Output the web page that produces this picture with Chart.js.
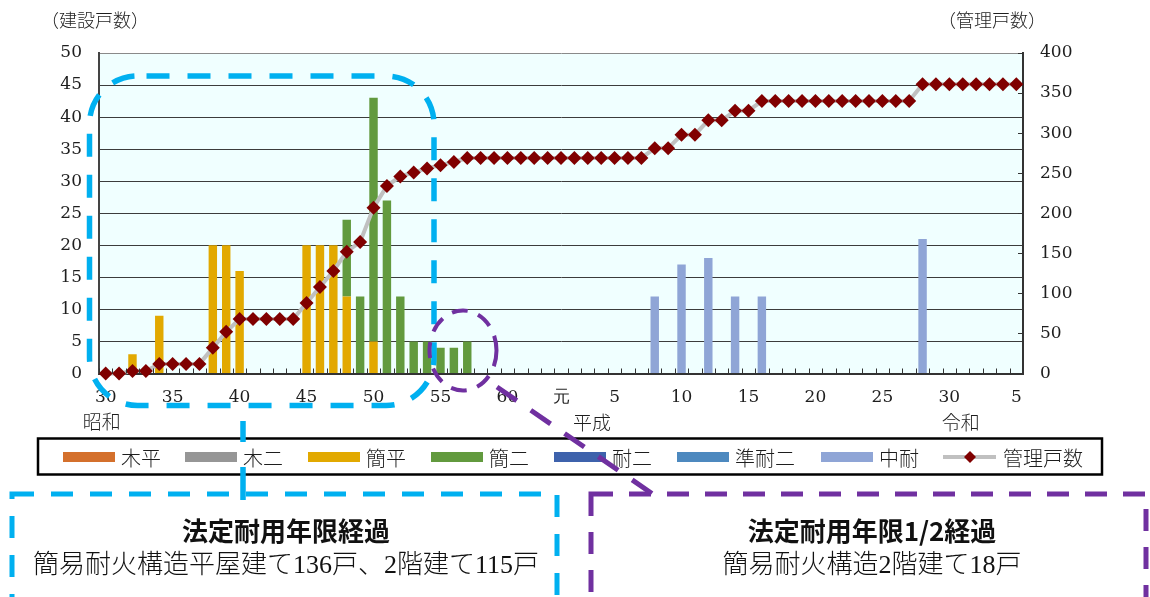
<!DOCTYPE html>
<html lang="ja">
<head>
<meta charset="utf-8">
<title>構造別建設戸数・管理戸数の推移</title>
<script src="https://cdn.jsdelivr.net/npm/chart.js@4.4.1/dist/chart.umd.min.js"></script>
<style>
  html, body { margin: 0; padding: 0; background: #ffffff; }
  #wrap { width: 1150px; height: 597px; position: relative; overflow: hidden; }
</style>
</head>
<body>
<div id="wrap"><canvas id="chart" width="1150" height="597"></canvas></div>
<script>
// ---- fiscal years, 昭和30 (1955) to 令和5 (2023) ----
const categories = [
  '昭和30','昭和31','昭和32','昭和33','昭和34','昭和35','昭和36','昭和37','昭和38','昭和39',
  '昭和40','昭和41','昭和42','昭和43','昭和44','昭和45','昭和46','昭和47','昭和48','昭和49',
  '昭和50','昭和51','昭和52','昭和53','昭和54','昭和55','昭和56','昭和57','昭和58','昭和59',
  '昭和60','昭和61','昭和62','昭和63','平成元','平成2','平成3','平成4','平成5','平成6',
  '平成7','平成8','平成9','平成10','平成11','平成12','平成13','平成14','平成15','平成16',
  '平成17','平成18','平成19','平成20','平成21','平成22','平成23','平成24','平成25','平成26',
  '平成27','平成28','平成29','平成30','令和元','令和2','令和3','令和4','令和5'
];

// years that carry a tick label (era prefix is dropped when drawn)
const labelledTicks = ['昭和30','昭和35','昭和40','昭和45','昭和50','昭和55','昭和60',
  '平成元','平成5','平成10','平成15','平成20','平成25','平成30','令和5'];

// era names written under the year numbers
const eraLabels = ['昭和', '平成', '令和'];

// ---- units built per year, by structure ----
const mokuHira = [];   // 木平 : none in this period
const mokuNi = [];     // 木二 : none in this period
const kanHira = [      // 簡平
  0,0,3,0,9,0,0,0,20,20,
  16,0,0,0,0,20,20,20,12,0,
  5,0,0,0,0,0,0,0,0,0,
  0,0,0,0,0,0,0,0,0,0,
  0,0,0,0,0,0,0,0,0,0,
  0,0,0,0,0,0,0,0,0,0,
  0,0,0,0,0,0,0,0,0
];
const kanNi = [        // 簡二
  0,0,0,0,0,0,0,0,0,0,
  0,0,0,0,0,0,0,0,12,12,
  38,27,12,5,5,4,4,5,0,0,
  0,0,0,0,0,0,0,0,0,0,
  0,0,0,0,0,0,0,0,0,0,
  0,0,0,0,0,0,0,0,0,0,
  0,0,0,0,0,0,0,0,0
];
const taiNi = [];      // 耐二 : none in this period
const junTaiNi = [];   // 準耐二 : none in this period
const chuTai = [       // 中耐
  0,0,0,0,0,0,0,0,0,0,
  0,0,0,0,0,0,0,0,0,0,
  0,0,0,0,0,0,0,0,0,0,
  0,0,0,0,0,0,0,0,0,0,
  0,12,0,17,0,18,0,12,0,12,
  0,0,0,0,0,0,0,0,0,0,
  0,21,0,0,0,0,0,0,0
];

// ---- units under management (right axis) ----
const kanriKosu = [
  0,0,3,3,12,12,12,12,32,52,
  68,68,68,68,68,88,108,128,152,164,
  207,234,246,251,256,260,264,269,269,269,
  269,269,269,269,269,269,269,269,269,269,
  269,281,281,298,298,316,316,328,328,340,
  340,340,340,340,340,340,340,340,340,340,
  340,361,361,361,361,361,361,361,361
];

// ---- axis ticks ----
const leftTicks = { min: 0, max: 50, step: 5 };
const rightTicks = { min: 0, max: 400, step: 50 };

const TICK_FONT = '"DejaVu Serif", "Liberation Serif", serif';
const NUM_FONT = '"Liberation Serif", "Noto Sans CJK JP", serif';
const JP_FONT = '"Noto Sans CJK JP", "Noto Sans", sans-serif';
const TEXT = '#1e1e1e';

const barSets = [
  { label: '木平',   data: mokuHira, color: '#D4702C' },
  { label: '木二',   data: mokuNi,   color: '#969696' },
  { label: '簡平',   data: kanHira,  color: '#E2A900' },
  { label: '簡二',   data: kanNi,    color: '#629A3E' },
  { label: '耐二',   data: taiNi,    color: '#3E62AC' },
  { label: '準耐二', data: junTaiNi, color: '#4D89BF' },
  { label: '中耐',   data: chuTai,   color: '#8FA5D6' }
];
const LINE_COLOR = '#C0C0C0';
const MARK_COLOR = '#800000';

const datasets = barSets.map(s => ({
  type: 'bar',
  label: s.label,
  data: s.data,
  backgroundColor: s.color,
  borderWidth: 0,
  yAxisID: 'y',
  stack: 'built',
  barPercentage: 0.63,
  categoryPercentage: 1.0,
  order: 2
}));
datasets.push({
  type: 'line',
  label: '管理戸数',
  data: kanriKosu,
  yAxisID: 'y2',
  borderColor: LINE_COLOR,
  borderWidth: 4,
  pointStyle: 'rectRot',
  pointRadius: 7,
  pointBackgroundColor: MARK_COLOR,
  pointBorderColor: MARK_COLOR,
  pointBorderWidth: 0,
  tension: 0,
  clip: false,
  order: 0
});

// legend entry left edges (swatch start) inside the framed legend row
const legendSlots = [63, 185, 308, 431, 554, 677, 821, 943];

// background, inner tick marks, era names, axis titles, legend and call-outs
const decorations = {
  id: 'decorations',
  beforeDraw(chart) {
    const { ctx, chartArea: a } = chart;
    ctx.save();
    ctx.fillStyle = '#F0FFFF';
    ctx.fillRect(a.left, a.top, a.right - a.left, a.bottom - a.top);
    ctx.restore();
  },
  afterDatasetsDraw(chart) {
    const { ctx, chartArea: a, scales } = chart;
    ctx.save();
    ctx.strokeStyle = '#333333';
    ctx.lineWidth = 1;
    // short ticks on the inside of the category axis, at each year boundary
    const n = categories.length;
    const w = (a.right - a.left) / n;
    for (let i = 0; i <= n; i++) {
      const x = Math.round(a.left + i * w) + 0.5;
      ctx.beginPath(); ctx.moveTo(x, a.bottom); ctx.lineTo(x, a.bottom - 5); ctx.stroke();
    }
    // short ticks on the inside of the right axis
    for (let v = rightTicks.min; v <= rightTicks.max; v += rightTicks.step) {
      const y = Math.round(scales.y2.getPixelForValue(v)) + 0.5;
      ctx.beginPath(); ctx.moveTo(a.right, y); ctx.lineTo(a.right - 5, y); ctx.stroke();
    }
    ctx.restore();
  },
  afterDraw(chart) {
    const { ctx, scales } = chart;
    const xs = scales.x;
    ctx.save();

    // era names
    ctx.fillStyle = TEXT;
    ctx.font = '300 19px ' + JP_FONT;
    ctx.textAlign = 'center';
    ctx.textBaseline = 'middle';
    const eraPos = [
      xs.getPixelForValue(categories.indexOf('昭和30')) - 4,
      xs.getPixelForValue(categories.indexOf('平成元')) + 31,
      xs.getPixelForValue(categories.indexOf('令和元')) - 2
    ];
    eraLabels.forEach((t, i) => ctx.fillText(t, eraPos[i], i === 0 ? 422 : 423));

    // axis titles
    ctx.font = '300 18px ' + JP_FONT;
    ctx.fillText('（建設戸数）', 95, 20);
    ctx.fillText('（管理戸数）', 992, 20);

    // legend
    const lgTop = 438.5, lgBottom = 474.5, lgMid = 457;
    ctx.lineWidth = 2.5;
    ctx.strokeStyle = '#000000';
    ctx.setLineDash([]);
    ctx.strokeRect(38, lgTop, 1102 - 38, lgBottom - lgTop);
    ctx.font = '300 20px ' + JP_FONT;
    ctx.textAlign = 'left';
    barSets.forEach((s, i) => {
      const x = legendSlots[i];
      ctx.fillStyle = s.color;
      ctx.fillRect(x, lgMid - 5, 52, 10);
      ctx.fillStyle = TEXT;
      ctx.fillText(s.label, x + 58, lgMid + 1);
    });
    const x = legendSlots[barSets.length];
    ctx.strokeStyle = LINE_COLOR;
    ctx.lineWidth = 4;
    ctx.beginPath(); ctx.moveTo(x, lgMid); ctx.lineTo(x + 53, lgMid); ctx.stroke();
    ctx.fillStyle = MARK_COLOR;
    const dx = x + 27;
    ctx.beginPath();
    ctx.moveTo(dx, lgMid - 6); ctx.lineTo(dx + 6, lgMid); ctx.lineTo(dx, lgMid + 6); ctx.lineTo(dx - 6, lgMid);
    ctx.closePath(); ctx.fill();
    ctx.fillStyle = TEXT;
    ctx.fillText('管理戸数', x + 60, lgMid + 1);

    // call-out: units past their statutory service life
    const CYAN = '#00B0F0';
    ctx.strokeStyle = CYAN;
    ctx.lineWidth = 5.5;
    ctx.setLineDash([23, 18]);
    ctx.lineDashOffset = -9;
    ctx.beginPath();
    ctx.roundRect(89.5, 76, 344.5, 329.5, 48);
    ctx.stroke();
    ctx.lineDashOffset = 0;
    ctx.setLineDash([21, 25, 33, 25]);
    ctx.beginPath(); ctx.moveTo(243, 421); ctx.lineTo(243, 500); ctx.stroke();
    ctx.lineWidth = 5;
    ctx.setLineDash([22, 17]);
    ctx.strokeRect(12, 494, 545, 140);

    // call-out: units past half of their service life
    const PURPLE = '#7030A0';
    ctx.strokeStyle = PURPLE;
    ctx.lineWidth = 4;
    ctx.setLineDash([16, 11]);
    ctx.beginPath();
    ctx.ellipse(463, 350.5, 33.5, 40, 0, 0, Math.PI * 2);
    ctx.stroke();
    ctx.lineWidth = 5;
    ctx.setLineDash([24, 17]);
    ctx.beginPath(); ctx.moveTo(497, 387); ctx.lineTo(657, 497); ctx.stroke();
    ctx.setLineDash([22, 16]);
    ctx.strokeRect(591, 494, 555, 140);

    // call-out texts
    ctx.setLineDash([]);
    ctx.fillStyle = '#111111';
    ctx.textAlign = 'center';
    ctx.font = 'bold 26px ' + JP_FONT;
    ctx.fillText('法定耐用年限経過', 286, 531);
    ctx.fillText('法定耐用年限1/2経過', 872, 531);
    ctx.font = '300 26px ' + NUM_FONT;
    ctx.fillText('簡易耐火構造平屋建て136戸、2階建て115戸', 286, 566);
    ctx.fillText('簡易耐火構造2階建て18戸', 872, 566);

    ctx.restore();
  }
};

new Chart(document.getElementById('chart'), {
  data: { labels: categories, datasets },
  options: {
    responsive: false,
    animation: false,
    devicePixelRatio: 1,
    layout: { padding: { left: 0, right: 0, top: 53, bottom: 0 } },
    plugins: { legend: { display: false }, tooltip: { enabled: false } },
    scales: {
      x: {
        stacked: true,
        offset: true,
        grid: { display: false, drawTicks: false },
        border: { display: true, color: '#333333', width: 2 },
        ticks: {
          autoSkip: false,
          maxRotation: 0,
          padding: 14,
          color: TEXT,
          font: { family: TICK_FONT, size: 17 },
          callback: (v, i) => labelledTicks.includes(categories[i]) ? categories[i].slice(2) : ''
        },
        afterFit: s => { s.height = 223.5; }
      },
      y: {
        type: 'linear',
        position: 'left',
        stacked: true,
        min: leftTicks.min,
        max: leftTicks.max,
        grid: {
          drawTicks: false,
          lineWidth: 1,
          color: c => c.tick && c.tick.value === leftTicks.max ? '#8a8a8a' : '#3c3c3c'
        },
        border: { display: true, color: '#444444', width: 2 },
        ticks: {
          stepSize: leftTicks.step,
          padding: 17,
          color: TEXT,
          font: { family: TICK_FONT, size: 17 }
        },
        afterFit: s => { s.width = 99; }
      },
      y2: {
        type: 'linear',
        position: 'right',
        min: rightTicks.min,
        max: rightTicks.max,
        grid: { display: false, drawTicks: false },
        border: { display: true, color: '#333333', width: 2 },
        ticks: {
          stepSize: rightTicks.step,
          padding: 17,
          color: TEXT,
          font: { family: TICK_FONT, size: 17 }
        },
        afterFit: s => { s.width = 127; }
      }
    }
  },
  plugins: [decorations]
});
</script>
</body>
</html>
